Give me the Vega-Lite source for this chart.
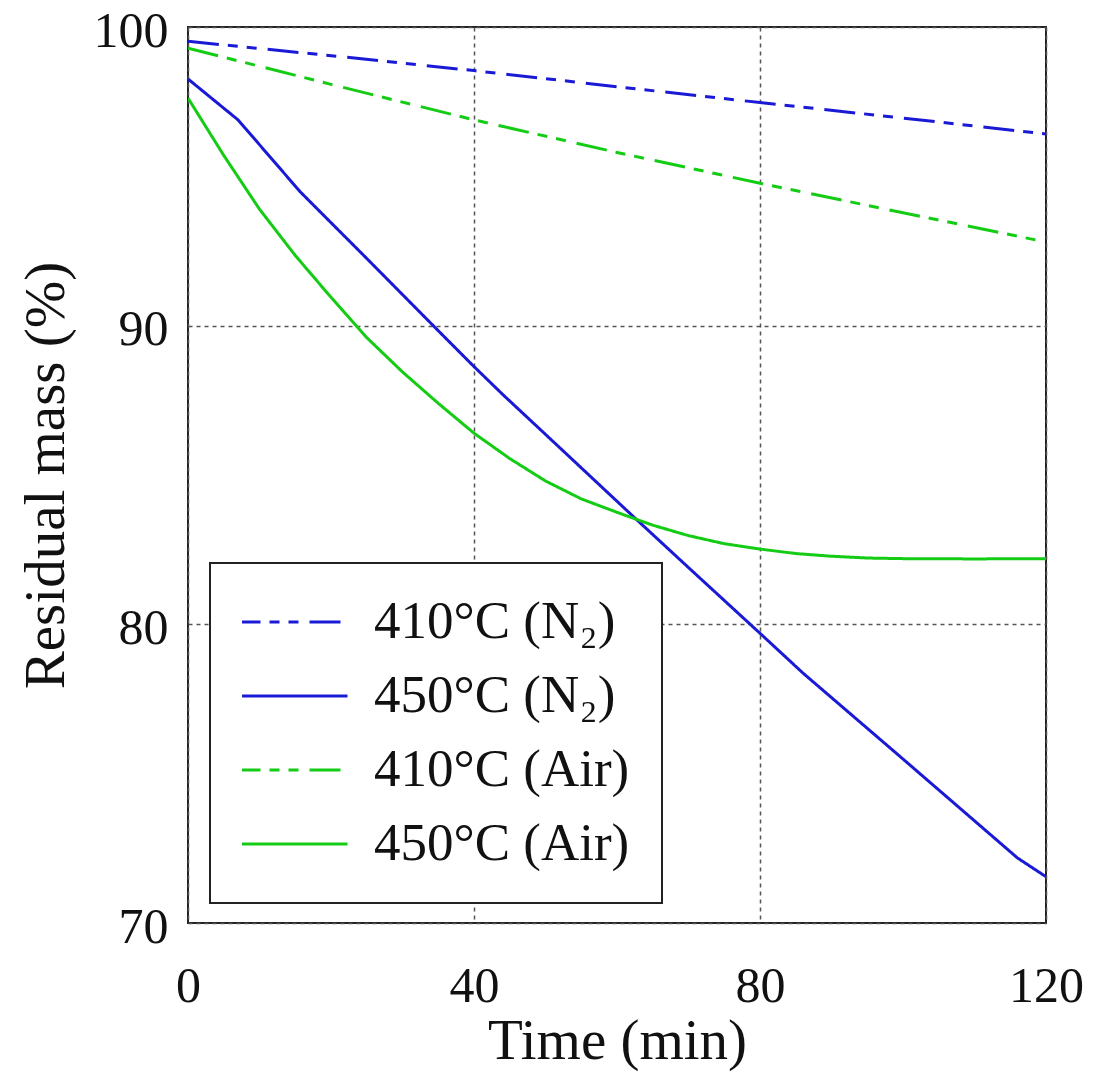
{
  "$schema": "https://vega.github.io/schema/vega-lite/v6.json",
  "width": 858,
  "height": 896,
  "autosize": {"type": "none"},
  "padding": {"left": 188, "top": 27, "right": 48, "bottom": 150},
  "background": "white",
  "config": {
    "font": "Liberation Serif",
    "view": {"stroke": "#222222", "strokeWidth": 2},
    "axis": {
      "grid": true,
      "gridDash": [4, 4],
      "gridColor": "#555555",
      "gridWidth": 1.5,
      "gridOpacity": 1,
      "ticks": false,
      "domain": false,
      "labelFont": "Liberation Serif",
      "labelFontSize": 50,
      "labelColor": "#111111",
      "labelFlush": false,
      "titleFont": "Liberation Serif",
      "titleFontSize": 57,
      "titleFontWeight": "normal",
      "titleColor": "#111111"
    },
    "legend": {
      "orient": "none",
      "legendX": 22,
      "legendY": 536,
      "title": null,
      "symbolType": "stroke",
      "symbolSize": 13924,
      "symbolStrokeWidth": 3,
      "symbolOffset": -14,
      "labelOffset": 25,
      "padding": 32,
      "rowPadding": 20,
      "clipHeight": 54,
      "strokeColor": "#222222",
      "strokeWidth": 2,
      "fillColor": "white",
      "cornerRadius": 0,
      "labelFont": "Liberation Serif",
      "labelFontSize": 53,
      "labelColor": "#111111",
      "labelLimit": 0
    }
  },
  "data": {
    "values": [
      {"s": "410°C (N₂)", "t": 0, "v": 99.52},
      {"s": "410°C (N₂)", "t": 20, "v": 99.04},
      {"s": "410°C (N₂)", "t": 40, "v": 98.54},
      {"s": "410°C (N₂)", "t": 60, "v": 98.0},
      {"s": "410°C (N₂)", "t": 80, "v": 97.47},
      {"s": "410°C (N₂)", "t": 100, "v": 96.95},
      {"s": "410°C (N₂)", "t": 120, "v": 96.42},
      {"s": "450°C (N₂)", "t": 0, "v": 98.26},
      {"s": "450°C (N₂)", "t": 7, "v": 96.89},
      {"s": "450°C (N₂)", "t": 15.7, "v": 94.48},
      {"s": "450°C (N₂)", "t": 25, "v": 92.25},
      {"s": "450°C (N₂)", "t": 34.3, "v": 90.0},
      {"s": "450°C (N₂)", "t": 40, "v": 88.63},
      {"s": "450°C (N₂)", "t": 44, "v": 87.7},
      {"s": "450°C (N₂)", "t": 50, "v": 86.36},
      {"s": "450°C (N₂)", "t": 62.5, "v": 83.56},
      {"s": "450°C (N₂)", "t": 70, "v": 81.9},
      {"s": "450°C (N₂)", "t": 80, "v": 79.7},
      {"s": "450°C (N₂)", "t": 86, "v": 78.37},
      {"s": "450°C (N₂)", "t": 100, "v": 75.49},
      {"s": "450°C (N₂)", "t": 116, "v": 72.18},
      {"s": "450°C (N₂)", "t": 120, "v": 71.55},
      {"s": "410°C (Air)", "t": 0, "v": 99.29},
      {"s": "410°C (Air)", "t": 15.7, "v": 98.34},
      {"s": "410°C (Air)", "t": 20, "v": 98.08},
      {"s": "410°C (Air)", "t": 40, "v": 96.89},
      {"s": "410°C (Air)", "t": 60, "v": 95.8},
      {"s": "410°C (Air)", "t": 80, "v": 94.77},
      {"s": "410°C (Air)", "t": 100, "v": 93.78},
      {"s": "410°C (Air)", "t": 120, "v": 92.8},
      {"s": "450°C (Air)", "t": 0, "v": 97.62},
      {"s": "450°C (Air)", "t": 5, "v": 95.7},
      {"s": "450°C (Air)", "t": 10, "v": 93.9},
      {"s": "450°C (Air)", "t": 15, "v": 92.35},
      {"s": "450°C (Air)", "t": 20, "v": 90.95},
      {"s": "450°C (Air)", "t": 25, "v": 89.6},
      {"s": "450°C (Air)", "t": 30, "v": 88.45},
      {"s": "450°C (Air)", "t": 35, "v": 87.4},
      {"s": "450°C (Air)", "t": 40, "v": 86.4},
      {"s": "450°C (Air)", "t": 45, "v": 85.55},
      {"s": "450°C (Air)", "t": 50, "v": 84.8},
      {"s": "450°C (Air)", "t": 55, "v": 84.2},
      {"s": "450°C (Air)", "t": 60, "v": 83.75},
      {"s": "450°C (Air)", "t": 65, "v": 83.32},
      {"s": "450°C (Air)", "t": 70, "v": 82.97},
      {"s": "450°C (Air)", "t": 75, "v": 82.7},
      {"s": "450°C (Air)", "t": 80, "v": 82.52},
      {"s": "450°C (Air)", "t": 85, "v": 82.37},
      {"s": "450°C (Air)", "t": 90, "v": 82.28},
      {"s": "450°C (Air)", "t": 95, "v": 82.22},
      {"s": "450°C (Air)", "t": 100, "v": 82.2},
      {"s": "450°C (Air)", "t": 110, "v": 82.19},
      {"s": "450°C (Air)", "t": 120, "v": 82.2}
    ]
  },
  "mark": {"type": "line", "strokeWidth": 3, "clip": true},
  "encoding": {
    "x": {
      "field": "t",
      "type": "quantitative",
      "scale": {"domain": [0, 120], "nice": false, "zero": false},
      "axis": {"values": [0, 40, 80, 120], "title": "Time (min)", "labelPadding": 38, "titlePadding": 2}
    },
    "y": {
      "field": "v",
      "type": "quantitative",
      "scale": {"domain": [70, 100], "nice": false, "zero": false},
      "axis": {"values": [70, 80, 90, 100], "title": "Residual mass (%)", "labelPadding": 20, "titlePadding": 18, "labelOffset": 4}
    },
    "color": {
      "field": "s",
      "type": "nominal",
      "scale": {
        "domain": ["410°C (N₂)", "450°C (N₂)", "410°C (Air)", "450°C (Air)"],
        "range": ["#1a1ad6", "#1a1ad6", "#14cc14", "#14cc14"]
      }
    },
    "strokeDash": {
      "field": "s",
      "type": "nominal",
      "scale": {
        "domain": ["410°C (N₂)", "450°C (N₂)", "410°C (Air)", "450°C (Air)"],
        "range": [[31, 9, 10, 9, 10, 11], [1, 0], [31, 9, 10, 9, 10, 11], [1, 0]]
      }
    }
  }
}
